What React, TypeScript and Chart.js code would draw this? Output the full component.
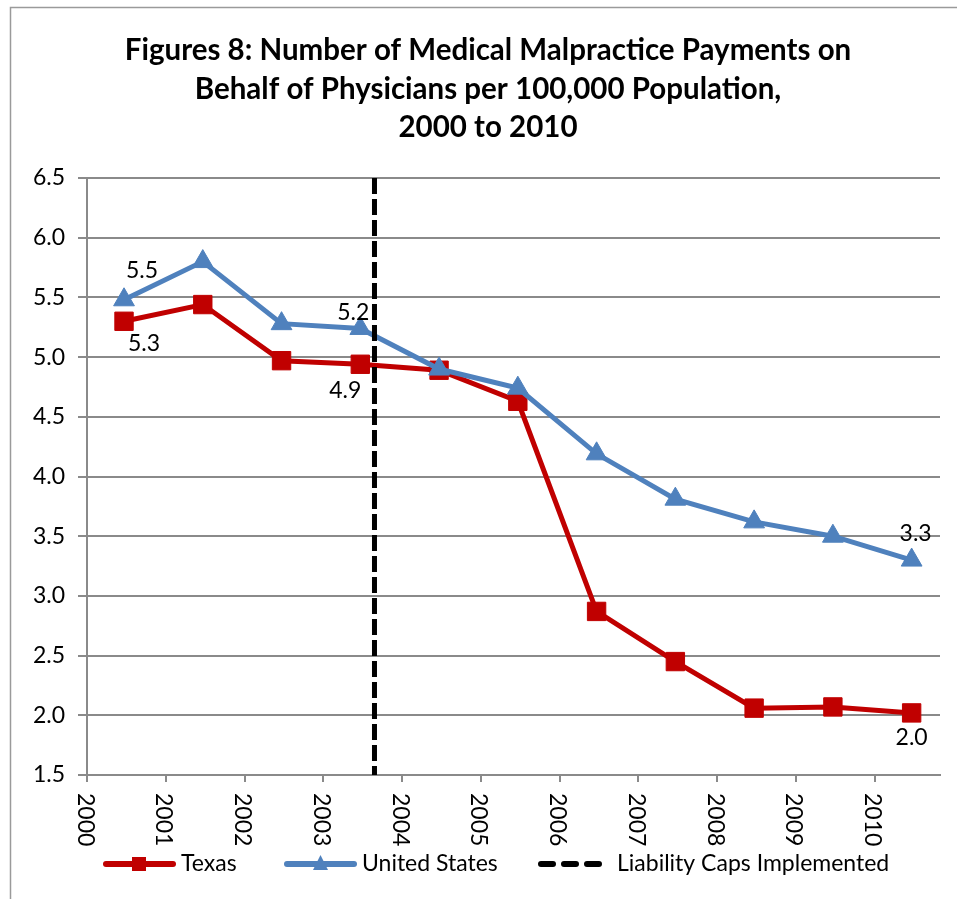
import React, { useEffect, useRef } from 'react';
import { Chart, registerables } from 'chart.js';

Chart.register(...registerables);

// ---- data ----
const years = [2000, 2001, 2002, 2003, 2004, 2005, 2006, 2007, 2008, 2009, 2010];
const texas = [5.30, 5.44, 4.97, 4.94, 4.89, 4.63, 2.87, 2.45, 2.06, 2.07, 2.02];
const unitedStates = [5.48, 5.80, 5.28, 5.24, 4.90, 4.74, 4.19, 3.81, 3.62, 3.50, 3.30];
const capsYear = 2003.65;
const xTickYears = [2000, 2001, 2002, 2003, 2004, 2005, 2006, 2007, 2008, 2009, 2010];
const yTickValues = [1.5, 2.0, 2.5, 3.0, 3.5, 4.0, 4.5, 5.0, 5.5, 6.0, 6.5];
const labeledIndices = [0, 3, 10];
const seriesNames = ['Texas', 'United States', 'Liability Caps Implemented'];
const titleLines = [
  'Figures 8: Number of Medical Malpractice Payments on',
  'Behalf of Physicians per 100,000 Population,',
  '2000 to 2010',
];

// ---- styles ----
const RED = '#C00000';
const BLUE = '#4F81BD';
const GRID = '#8a8a8a';
const FONT = 'Lato';
const TXT = 23;
const POINT_OFFSET = 0.47; // points sit mid-year

// label offsets (pixels) per series, per labeled index
const labelOffsets: Record<string, { dx: number; dy: number }[]> = {
  us: [
    { dx: 18, dy: -29 },
    { dx: -7, dy: -16 },
    { dx: 4, dy: -27 },
  ],
  tx: [
    { dx: 20, dy: 22 },
    { dx: -15, dy: 26 },
    { dx: 0, dy: 25 },
  ],
};

const decorPlugin = {
  id: 'decor',
  afterDraw(chart: any) {
    const ctx = chart.ctx as CanvasRenderingContext2D;
    const xs = chart.scales.x;
    ctx.save();

    // frame
    ctx.strokeStyle = '#9a9a9a';
    ctx.lineWidth = 1.5;
    ctx.beginPath();
    ctx.moveTo(10.5, 899);
    ctx.lineTo(10.5, 7.5);
    ctx.lineTo(957, 7.5);
    ctx.stroke();

    // title
    ctx.fillStyle = '#000';
    ctx.font = `bold 29.5px ${FONT}`;
    ctx.textAlign = 'center';
    ctx.textBaseline = 'middle';
    const titleY = [50, 89, 127];
    titleLines.forEach((t, i) => ctx.fillText(t, 488, titleY[i]));

    // x tick labels rotated clockwise
    ctx.font = `${TXT}px ${FONT}`;
    ctx.textAlign = 'left';
    ctx.textBaseline = 'middle';
    xTickYears.forEach((yr) => {
      const px = xs.getPixelForValue(yr);
      ctx.save();
      ctx.translate(px - 2, chart.chartArea.bottom + 18);
      ctx.rotate(Math.PI / 2);
      ctx.fillText(String(yr), 0, 0);
      ctx.restore();
    });

    // data labels
    const drawLabels = (dsIndex: number, values: number[], key: string) => {
      const meta = chart.getDatasetMeta(dsIndex);
      labeledIndices.forEach((idx, k) => {
        const el = meta.data[idx];
        const off = labelOffsets[key][k];
        ctx.textAlign = 'center';
        ctx.textBaseline = 'middle';
        ctx.fillText(values[idx].toFixed(1), el.x + off.dx, el.y + off.dy);
      });
    };
    ctx.fillStyle = '#000';
    ctx.font = `${TXT}px ${FONT}`;
    drawLabels(1, unitedStates, 'us');
    drawLabels(2, texas, 'tx');

    // legend
    const ly = 864;
    ctx.lineCap = 'round';
    ctx.lineWidth = 6;
    // Texas
    ctx.strokeStyle = RED;
    ctx.beginPath();
    ctx.moveTo(106, ly);
    ctx.lineTo(173, ly);
    ctx.stroke();
    ctx.fillStyle = RED;
    ctx.fillRect(132, ly - 7, 14, 14);
    // US
    ctx.strokeStyle = BLUE;
    ctx.beginPath();
    ctx.moveTo(287, ly);
    ctx.lineTo(354, ly);
    ctx.stroke();
    ctx.fillStyle = BLUE;
    ctx.beginPath();
    ctx.moveTo(320.5, ly - 9);
    ctx.lineTo(328, ly + 6);
    ctx.lineTo(313, ly + 6);
    ctx.closePath();
    ctx.fill();
    // caps
    ctx.strokeStyle = '#000';
    ctx.setLineDash([12, 11]);
    ctx.beginPath();
    ctx.moveTo(541, ly);
    ctx.lineTo(600, ly);
    ctx.stroke();
    ctx.setLineDash([]);

    ctx.fillStyle = '#000';
    ctx.font = `${TXT}px ${FONT}`;
    ctx.textAlign = 'left';
    ctx.textBaseline = 'middle';
    ctx.fillText(seriesNames[0], 181, ly);
    ctx.fillText(seriesNames[1], 362, ly);
    ctx.fillText(seriesNames[2], 617, ly);

    ctx.restore();
  },
};

export default function App() {
  const canvasRef = useRef<HTMLCanvasElement | null>(null);

  useEffect(() => {
    document.body.style.margin = '0';
    const canvas = canvasRef.current;
    if (!canvas) return;

    const chart = new Chart(canvas, {
      type: 'line',
      data: {
        datasets: [
          {
            label: seriesNames[2],
            data: [
              { x: capsYear, y: yTickValues[yTickValues.length - 1] },
              { x: capsYear, y: yTickValues[0] },
            ],
            borderColor: '#000',
            borderWidth: 5,
            borderDash: [16, 5],
            borderCapStyle: 'butt',
            pointRadius: 0,
            order: 0,
          },
          {
            label: seriesNames[1],
            data: years.map((yr, i) => ({ x: yr + POINT_OFFSET, y: unitedStates[i] })),
            borderColor: BLUE,
            backgroundColor: BLUE,
            borderWidth: 5,
            pointStyle: 'triangle',
            pointRadius: 12,
            pointBorderWidth: 1,
            pointBorderColor: BLUE,
            pointBackgroundColor: BLUE,
            order: 1,
          },
          {
            label: seriesNames[0],
            data: years.map((yr, i) => ({ x: yr + POINT_OFFSET, y: texas[i] })),
            borderColor: RED,
            backgroundColor: RED,
            borderWidth: 5,
            pointStyle: 'rect',
            pointRadius: 13,
            pointBorderWidth: 1,
            pointBorderColor: RED,
            pointBackgroundColor: RED,
            order: 2,
          },
        ],
      },
      options: {
        responsive: false,
        animation: false,
        events: [],
        layout: { padding: { left: 0, right: 17, top: 178, bottom: 0 } },
        plugins: {
          legend: { display: false },
          title: { display: false },
          tooltip: { enabled: false },
        },
        scales: {
          x: {
            type: 'linear',
            min: 2000,
            max: 2010.83,
            afterBuildTicks: (scale: any) => {
              scale.ticks = xTickYears.map((v) => ({ value: v }));
            },
            afterFit: (scale: any) => {
              scale.height = 124;
            },
            ticks: { display: false },
            grid: {
              drawOnChartArea: false,
              drawTicks: true,
              tickLength: 7,
              color: GRID,
              lineWidth: 2,
            },
            border: { display: true, color: GRID, width: 2 },
          },
          y: {
            type: 'linear',
            min: 1.5,
            max: 6.5,
            afterBuildTicks: (scale: any) => {
              scale.ticks = yTickValues.map((v) => ({ value: v }));
            },
            afterFit: (scale: any) => {
              scale.width = 87;
            },
            ticks: {
              color: '#000',
              font: { family: FONT, size: TXT },
              padding: 13,
              callback: (v: any) => Number(v).toFixed(1),
            },
            grid: {
              color: GRID,
              lineWidth: 2,
              tickLength: 9,
            },
            border: { display: true, color: GRID, width: 2 },
          },
        },
      },
      plugins: [decorPlugin],
    });

    return () => chart.destroy();
  }, []);

  return (
    <div style={{ width: 957, height: 899, position: 'relative', background: '#fff' }}>
      <canvas ref={canvasRef} width={957} height={899} style={{ display: 'block' }} />
    </div>
  );
}
